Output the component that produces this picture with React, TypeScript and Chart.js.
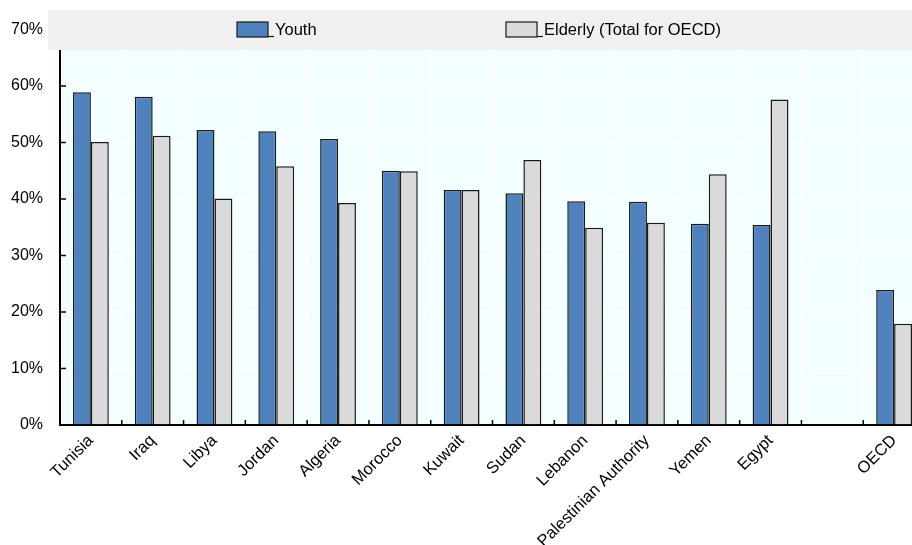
import React, { useEffect, useRef } from "react";
import { Chart, registerables } from "chart.js";

Chart.register(...registerables);

const categories = [
  "Tunisia", "Iraq", "Libya", "Jordan", "Algeria", "Morocco", "Kuwait",
  "Sudan", "Lebanon", "Palestinian Authority", "Yemen", "Egypt", "", "OECD",
];
const youth = [58.9, 58.1, 52.2, 52.0, 50.6, 45.0, 41.6, 41.0, 39.6, 39.5, 35.6, 35.4, null, 23.9];
const elderly = [50.1, 51.2, 40.1, 45.8, 39.3, 44.9, 41.6, 46.9, 34.9, 35.8, 44.4, 57.6, null, 17.9];
const yTicks = [0, 10, 20, 30, 40, 50, 60, 70];
const seriesNames = ["Youth", "Elderly (Total for OECD)"];

const FONT = "'Liberation Sans', Arial, sans-serif";
const BLUE = "#4f81bd";
const GREY = "#dadada";
const EDGE = "#1a1a1a";

const decorPlugin = {
  id: "decor",
  beforeDraw(chart: any) {
    const { ctx, chartArea: a } = chart;
    ctx.save();
    ctx.fillStyle = "#f2feff";
    ctx.fillRect(a.left, a.top, a.right - a.left, a.bottom - a.top);
    ctx.restore();
  },
  afterDatasetsDraw(chart: any) {
    const { ctx, chartArea: a } = chart;
    const xs = chart.scales.x;
    const ys = chart.scales.y;
    ctx.save();
    ctx.strokeStyle = "#000";
    ctx.lineWidth = 1.5;
    const n = categories.length;
    for (let i = 1; i < n; i++) {
      const x = (xs.getPixelForValue(i - 1) + xs.getPixelForValue(i)) / 2;
      ctx.beginPath();
      ctx.moveTo(x, a.bottom);
      ctx.lineTo(x, a.bottom - 5);
      ctx.stroke();
    }
    yTicks.forEach((t) => {
      const y = ys.getPixelForValue(t);
      ctx.beginPath();
      ctx.moveTo(a.left, y);
      ctx.lineTo(a.left + 6, y);
      ctx.stroke();
    });
    ctx.restore();
  },
  afterDraw(chart: any) {
    const { ctx } = chart;
    ctx.save();
    ctx.fillStyle = "#f0f0f0";
    ctx.fillRect(48, 10, chart.width - 48, 40);
    const items = [
      { x: 237, color: BLUE, label: seriesNames[0] },
      { x: 506, color: GREY, label: seriesNames[1] },
    ];
    items.forEach((it) => {
      ctx.fillStyle = it.color;
      ctx.fillRect(it.x, 22, 31, 15);
      ctx.strokeStyle = EDGE;
      ctx.lineWidth = 1.2;
      ctx.strokeRect(it.x, 22, 31, 15);
      ctx.beginPath();
      ctx.moveTo(it.x + 31, 36.5);
      ctx.lineTo(it.x + 37, 36.5);
      ctx.stroke();
      ctx.fillStyle = "#000";
      ctx.font = `16.5px ${FONT}`;
      ctx.textBaseline = "middle";
      ctx.textAlign = "left";
      ctx.fillText(it.label, it.x + 38, 30.5);
    });
    ctx.restore();
  },
};

export default function App() {
  const ref = useRef<HTMLCanvasElement>(null);
  useEffect(() => {
    if (!ref.current) return;
    const chart = new Chart(ref.current, {
      type: "bar",
      data: {
        labels: categories,
        datasets: [
          {
            label: seriesNames[0],
            data: youth,
            backgroundColor: BLUE,
            borderColor: EDGE,
            borderWidth: 1.5,
            categoryPercentage: 0.58,
            barPercentage: 1,
          },
          {
            label: seriesNames[1],
            data: elderly,
            backgroundColor: GREY,
            borderColor: EDGE,
            borderWidth: 1.5,
            categoryPercentage: 0.58,
            barPercentage: 1,
          },
        ],
      },
      options: {
        animation: false,
        responsive: false,
        events: [],
        layout: { padding: { top: 29.5, left: 0, right: 15, bottom: 0 } },
        plugins: { legend: { display: false }, tooltip: { enabled: false } },
        scales: {
          x: {
            grid: { color: "#ffffff", lineWidth: 1.5, drawTicks: false, offset: true },
            border: { color: "#000", width: 2 },
            ticks: {
              autoSkip: false,
              maxRotation: 45,
              minRotation: 45,
              padding: 6,
              color: "#000",
              font: { family: FONT, size: 16.5 },
            },
            afterFit(scale: any) {
              scale.height = 120;
            },
          },
          y: {
            min: 0,
            max: 70,
            grid: { color: "#ffffff", lineWidth: 1.5, drawTicks: false },
            border: { color: "#000", width: 2 },
            ticks: {
              stepSize: 10,
              padding: 17,
              color: "#000",
              font: { family: FONT, size: 16 },
              callback: (v: any) => `${v}%`,
            },
            afterFit(scale: any) {
              scale.width = 60;
            },
          },
        },
      },
      plugins: [decorPlugin],
    });
    return () => chart.destroy();
  }, []);
  return (
    <div style={{ position: "fixed", left: 0, top: 0, width: 912, height: 545, overflow: "hidden", background: "#fff" }}>
      <canvas ref={ref} width={940} height={545} style={{ width: 940, height: 545, display: "block" }} />
    </div>
  );
}
